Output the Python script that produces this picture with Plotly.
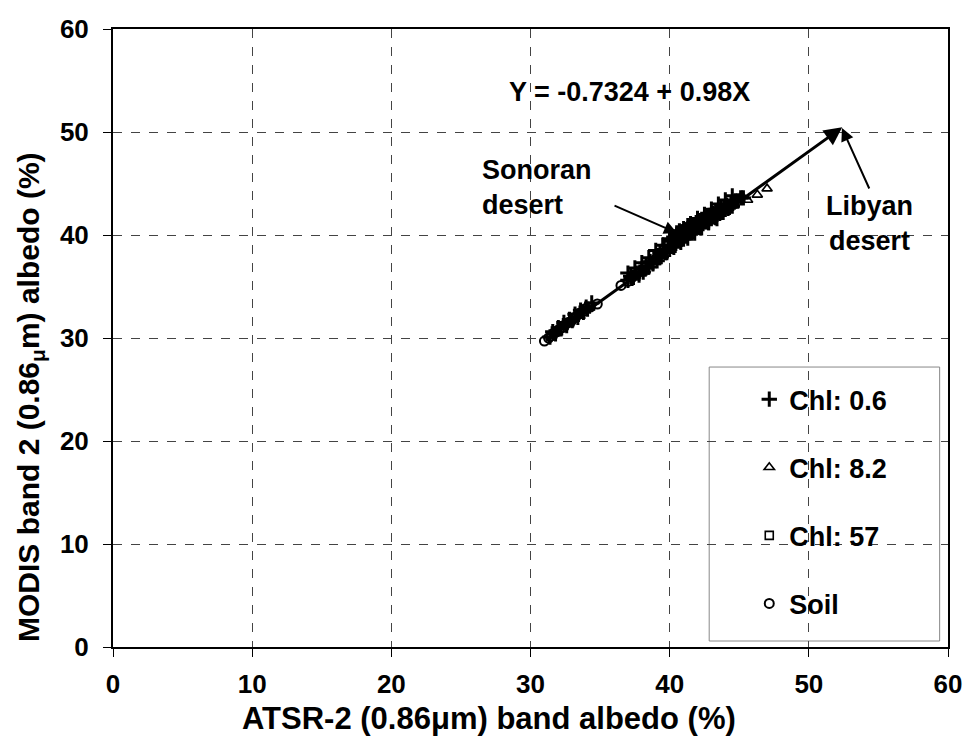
import plotly.graph_objects as go

# ---------------- data ----------------
chl06_x = [31.4, 31.8, 32.2, 32.6, 33.0, 33.4, 33.8, 34.1,
           31.6, 32.0, 32.4, 32.8, 33.2, 33.6, 34.0, 34.4,
           37.0, 37.2, 37.4, 37.6, 37.8, 38.0, 38.1, 38.3, 38.5, 38.6, 38.8, 39.0,
           39.1, 39.3, 39.4, 39.6, 39.7, 39.9, 40.0, 40.1, 40.2, 40.3, 40.4, 40.5,
           40.6, 40.7, 40.8, 40.9, 41.0, 41.1, 41.2, 41.3, 41.4, 41.5, 41.6, 41.7,
           41.8, 41.9, 42.0, 42.1, 42.2, 42.3, 42.4, 42.5, 42.6, 42.7, 42.8, 42.9,
           43.0, 43.1, 43.2, 43.3, 43.4, 43.5, 43.6, 43.7, 43.8, 43.9, 44.0, 44.1,
           44.2, 44.4, 44.5, 44.7, 44.9, 45.1, 45.3,
           39.8, 40.4, 41.0, 41.6, 42.2, 42.8, 43.4, 40.0, 40.7, 41.3,
           37.0, 37.5, 38.0, 38.5, 39.0, 39.5, 40.0, 40.5, 41.0, 41.5, 42.0, 42.5,
           43.0, 43.5, 44.0, 44.5,
           37.3, 37.8, 38.3, 38.8, 39.3, 39.8, 40.3, 40.8, 41.3, 41.8, 42.3, 42.8,
           43.3, 43.8, 44.3]
chl06_y = [30.1, 30.4, 30.9, 31.2, 31.7, 32.0, 32.5, 32.8,
           30.6, 31.0, 31.5, 31.8, 32.3, 32.7, 33.0, 33.4,
           35.6, 36.0, 35.9, 36.3, 36.1, 36.7, 36.4, 37.0, 36.9, 37.4, 37.2, 37.8,
           37.5, 38.2, 37.9, 38.6, 38.3, 39.0, 38.6, 39.4, 38.9, 39.8, 39.2, 40.0,
           39.5, 39.9, 39.6, 40.3, 39.8, 40.5, 40.1, 40.6, 40.2, 40.8, 40.4, 41.0,
           40.6, 41.2, 40.8, 41.3, 41.0, 41.5, 41.1, 41.6, 41.3, 41.8, 41.4, 41.9,
           41.6, 42.1, 41.8, 42.3, 42.0, 42.4, 42.1, 42.6, 42.3, 42.7, 42.5, 42.9,
           42.6, 43.1, 42.8, 43.3, 43.3, 43.6, 43.6,
           38.4, 39.0, 39.6, 40.2, 40.7, 41.2, 41.6, 39.6, 40.4, 40.9,
           36.3, 36.8, 37.3, 37.8, 38.5, 39.0, 39.6, 40.2, 40.6, 41.1, 41.6, 42.0,
           42.5, 43.0, 43.4, 43.8,
           35.8, 36.3, 36.8, 37.3, 37.8, 38.3, 38.8, 39.3, 39.7, 40.2, 40.7, 41.2,
           41.7, 42.2, 42.7]

chl82_x = [44.8, 45.2, 45.6, 46.3, 47.0]
chl82_y = [43.5, 43.8, 43.4, 43.9, 44.5]

chl57_x = [38.2, 39.5, 40.6, 41.8, 43.0, 44.3]
chl57_y = [36.6, 38.2, 39.4, 40.5, 41.8, 42.8]

soil_x = [31.0, 31.3, 31.5, 31.7, 31.9, 32.1, 32.3, 32.5, 32.7, 32.9, 33.1,
          33.3, 33.5, 33.8, 34.0, 34.3, 34.8, 36.5, 37.0, 37.3]
soil_y = [29.7, 30.0, 30.2, 30.5, 30.6, 30.9, 31.0, 31.3, 31.5, 31.6, 31.9,
          32.1, 32.4, 32.6, 32.9, 33.0, 33.3, 35.1, 35.5, 35.9]

# regression line end points (Y = -0.7324 + 0.98X)
fit_x = [31.0, 52.4]
fit_y = [29.65, 50.45]

x_ticks = [0, 10, 20, 30, 40, 50, 60]
y_ticks = [0, 10, 20, 30, 40, 50, 60]

FONT = "Liberation Sans, Arial, sans-serif"

fig = go.Figure()

mk_line = dict(color="black", width=1.6)
fig.add_trace(go.Scatter(x=chl06_x, y=chl06_y, mode="markers", name="<b>Chl: 0.6</b>",
                         legendgroup="a",
                         marker=dict(symbol="cross-thin", size=11, color="black",
                                     line=dict(color="black", width=3))))
fig.add_trace(go.Scatter(x=chl82_x, y=chl82_y, mode="markers", name="<b>Chl: 8.2</b>",
                         legendgroup="b",
                         marker=dict(symbol="triangle-up-open", size=9, color="black", line=mk_line)))
fig.add_trace(go.Scatter(x=chl57_x, y=chl57_y, mode="markers", name="<b>Chl: 57</b>",
                         legendgroup="c",
                         marker=dict(symbol="square-open", size=8, color="black", line=mk_line)))
fig.add_trace(go.Scatter(x=soil_x, y=soil_y, mode="markers", name="<b>Soil</b>",
                         legendgroup="d",
                         marker=dict(symbol="circle-open", size=9, color="black",
                                     line=dict(color="black", width=2))))

annotations = [
    # regression arrow
    dict(x=fit_x[1], y=fit_y[1], ax=fit_x[0], ay=fit_y[0], xref="x", yref="y",
         axref="x", ayref="y", text="", showarrow=True, arrowhead=2, arrowsize=1.2,
         arrowwidth=3, arrowcolor="black", standoff=0),
    # equation
    dict(x=37.08, y=53.9, xref="x", yref="y", text="<b>Y = -0.7324 + 0.98X</b>",
         showarrow=False, font=dict(size=27, color="black", family=FONT)),
    # Sonoran
    dict(x=26.37, y=44.6, xref="x", yref="y", text="<b>Sonoran<br>desert</b>",
         showarrow=False, xanchor="left", align="left",
         font=dict(size=27, color="black", family=FONT)),
    dict(x=40.53, y=40.19, ax=35.93, ay=42.91, xref="x", yref="y", axref="x", ayref="y",
         text="", showarrow=True, arrowhead=2, arrowsize=1.3, arrowwidth=2,
         arrowcolor="black", standoff=0),
    # Libyan
    dict(x=54.39, y=41.07, xref="x", yref="y", text="<b>Libyan<br>desert</b>",
         showarrow=False, align="center",
         font=dict(size=27, color="black", family=FONT)),
    dict(x=52.38, y=50.39, ax=54.39, ay=44.37, xref="x", yref="y", axref="x", ayref="y",
         text="", showarrow=True, arrowhead=2, arrowsize=1.3, arrowwidth=2,
         arrowcolor="black", standoff=0),
    # axis titles
    dict(x=0.450, y=-0.115, xref="paper", yref="paper", xanchor="center", yanchor="middle",
         text="<b>ATSR-2 (0.86μm) band albedo (%)</b>", showarrow=False,
         font=dict(size=31, color="black", family=FONT)),
    dict(x=-0.0994, y=0.4045, xref="paper", yref="paper", textangle=-90,
         xanchor="center", yanchor="middle",
         text="<b>MODIS band 2 (0.86<sub>μ</sub>m) albedo (%)</b>", showarrow=False,
         font=dict(size=30, color="black", family=FONT)),
]

axis_common = dict(
    showline=True, linecolor="black", linewidth=2, mirror=True,
    showgrid=True, gridcolor="#444444", gridwidth=1, griddash="dash",
    ticks="outside", ticklen=8, tickcolor="black", tickwidth=1,
    zeroline=False,
    tickfont=dict(size=26, color="black", family=FONT, weight="bold"),
)

fig.update_layout(
    width=966, height=751,
    margin=dict(l=113, r=18, t=29, b=104, autoexpand=False),
    paper_bgcolor="white", plot_bgcolor="white",
    font=dict(family=FONT, color="black"),
    xaxis=dict(range=[0, 60], tickvals=x_ticks, ticktext=[str(v) for v in x_ticks],
               ticklabelstandoff=5, automargin=False, **axis_common),
    yaxis=dict(range=[0, 60], tickvals=y_ticks, ticktext=[str(v) for v in y_ticks],
               ticklabelstandoff=9, automargin=False, **axis_common),
    showlegend=True,
    legend=dict(x=0.762, y=0.44, xanchor="left", yanchor="top",
                bgcolor="rgba(0,0,0,0)", borderwidth=0,
                font=dict(size=27, color="black", family=FONT),
                tracegroupgap=30, itemsizing="trace"),
    shapes=[dict(type="rect", xref="paper", yref="paper", x0=0.714, x1=0.990,
                 y0=0.0097, y1=0.453, line=dict(color="#888888", width=1),
                 fillcolor="white", layer="below")],
    annotations=annotations,
)

fig.write_html("out.html")
